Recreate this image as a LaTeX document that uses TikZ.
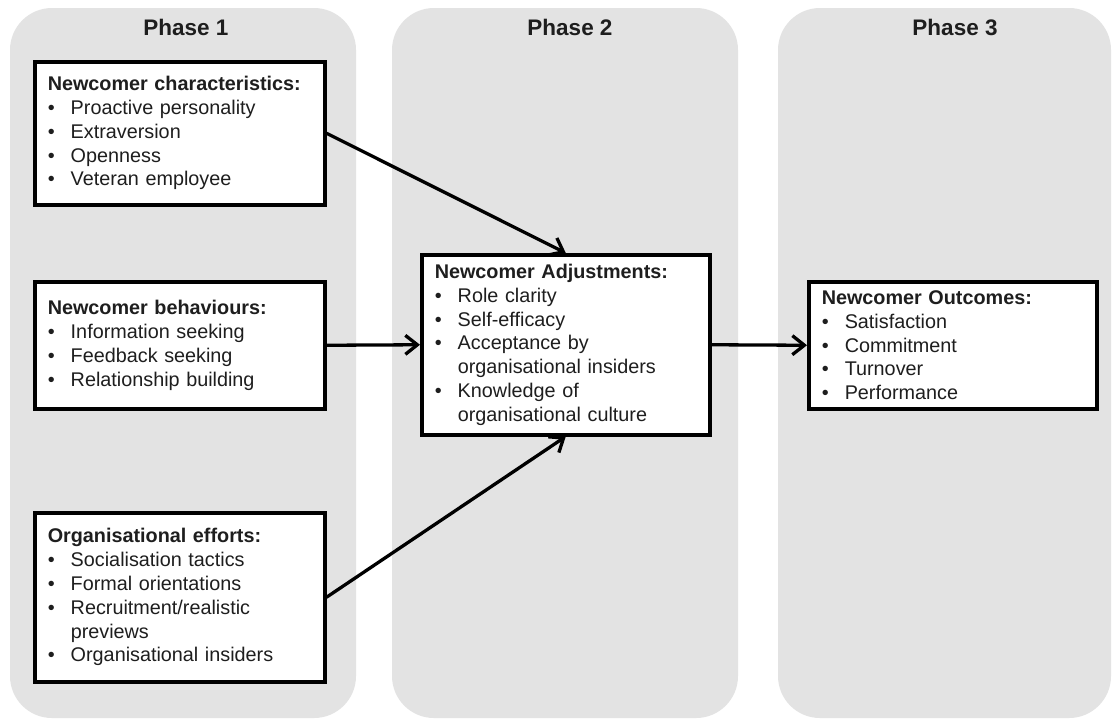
\documentclass[tikz,border=0pt]{standalone}
\usepackage{fontspec}
\setmainfont{Liberation Sans}
\usetikzlibrary{arrows.meta}
\definecolor{panelgray}{HTML}{E3E3E3}
\definecolor{txt}{HTML}{1E1E1E}
\newcommand{\itm}[1]{\\\makebox[23pt][l]{\textbullet}#1}
\newcommand{\cont}[1]{\\\hspace*{23pt}#1}
\begin{document}
\begin{tikzpicture}[x=1pt,y=-1pt,
  panel/.style={fill=panelgray,draw=none,rounded corners=42pt},
  phasetitle/.style={font=\fontsize{22.5}{26}\selectfont\bfseries,text=txt,anchor=center},
  infobox/.style={draw=black,line width=3.5pt,fill=white,anchor=north west,
    inner xsep=13pt,inner ysep=0pt,align=left,text=txt,
    font=\fontsize{19.8}{23.8}\selectfont},
  link/.style={line width=3.3pt,draw=black,-{Straight Barb[length=12pt,width=19pt,line width=3.3pt]}}]
\useasboundingbox (0,0) rectangle (1113,721);
\fill[white] (0,0) rectangle (1113,721);
% panels
\fill[panel] (10,8) rectangle (356,718);
\fill[panel] (392,8) rectangle (738,718);
\fill[panel] (778,8) rectangle (1111,718);
\node[phasetitle] (p1) at (186,27) {Phase 1};
\node[phasetitle] (p2) at (570,27) {Phase 2};
\node[phasetitle] (p3) at (955,27) {Phase 3};
% boxes
\node[infobox,text width=264pt,minimum height=143pt] (c1) at (33,60)
 {\textbf{Newcomer characteristics:}\itm{Proactive personality}\itm{Extraversion}\itm{Openness}\itm{Veteran employee}};
\node[infobox,text width=264pt,minimum height=127pt] (c2) at (33,280)
 {\textbf{Newcomer behaviours:}\itm{Information seeking}\itm{Feedback seeking}\itm{Relationship building}};
\node[infobox,text width=264pt,minimum height=169pt] (c3) at (33,511)
 {\textbf{Organisational efforts:}\itm{Socialisation tactics}\itm{Formal orientations}\itm{Recruitment/realistic}\cont{previews}\itm{Organisational insiders}};
\node[infobox,text width=262pt,minimum height=180pt] (adj) at (420,253)
 {\textbf{Newcomer Adjustments:}\itm{Role clarity}\itm{Self-efficacy}\itm{Acceptance by}\cont{organisational insiders}\itm{Knowledge of}\cont{organisational culture}};
\node[infobox,text width=262pt,minimum height=127pt] (out) at (807,280)
 {\textbf{Newcomer Outcomes:}\itm{Satisfaction}\itm{Commitment}\itm{Turnover}\itm{Performance}};
% connectors
\draw[link] (c1.east) -- (adj.north);
\draw[link] (c2.east) -- (adj.west);
\draw[link] (c3.east) -- (adj.south);
\draw[link] (adj.east) -- (out.west);
\end{tikzpicture}
\end{document}
